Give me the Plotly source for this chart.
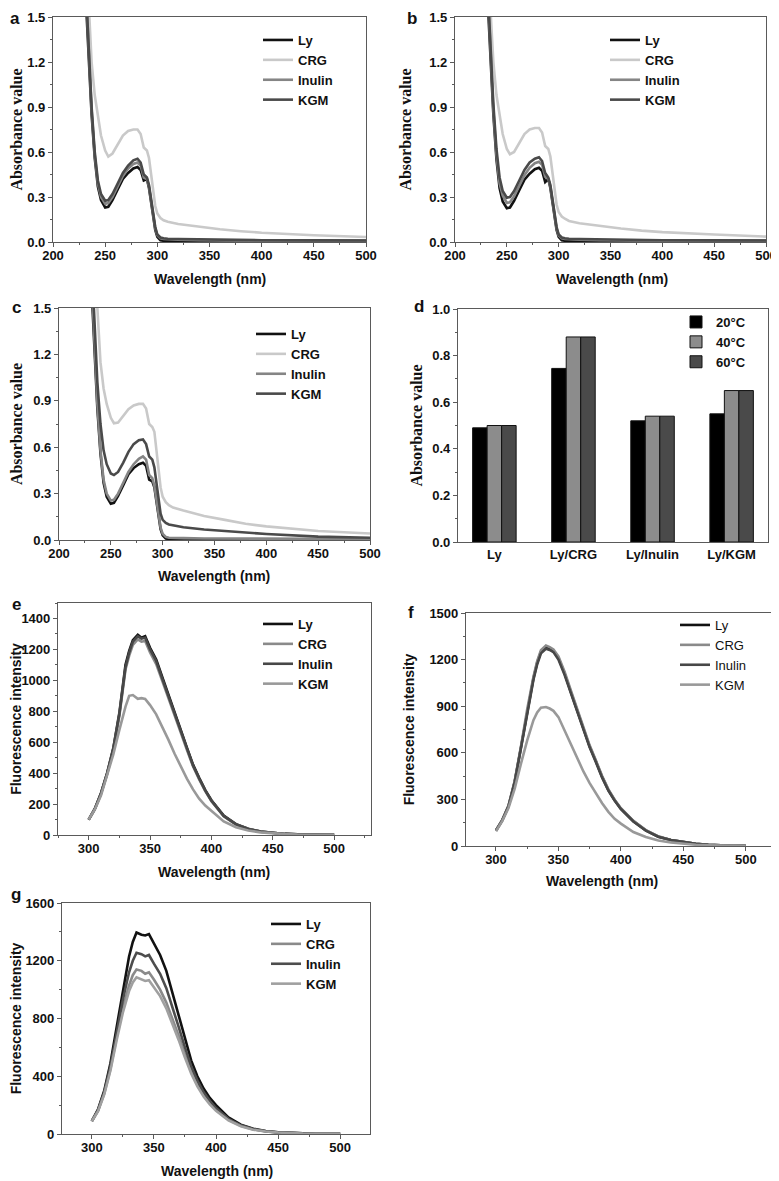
import plotly.graph_objects as go

# ---------------- data ----------------
WL_ABS = [228, 232, 235, 237, 240, 243, 246, 250, 253, 257, 262, 267, 272, 277, 281, 284, 287, 290,
          292, 294, 296, 298, 300, 303, 306, 310, 320, 340, 360, 380, 400, 450, 500]

a_Ly = [2.1, 1.55, 1.05, 0.85, 0.56, 0.37, 0.28, 0.23, 0.235, 0.28, 0.35, 0.42, 0.46, 0.49, 0.50, 0.48, 0.41, 0.42,
        0.36, 0.26, 0.16, 0.08, 0.035, 0.012, 0.008, 0.008, 0.008, 0.008, 0.008, 0.008, 0.008, 0.008, 0.008]
a_CRG = [2.6, 1.85, 1.48, 1.2, 0.98, 0.84, 0.71, 0.61, 0.57, 0.59, 0.65, 0.71, 0.74, 0.75, 0.75, 0.72, 0.63, 0.61,
         0.56, 0.45, 0.33, 0.24, 0.19, 0.16, 0.145, 0.135, 0.12, 0.10, 0.085, 0.072, 0.062, 0.045, 0.033]
a_Inulin = [2.2, 1.6, 1.1, 0.88, 0.58, 0.39, 0.30, 0.255, 0.26, 0.30, 0.37, 0.44, 0.49, 0.52, 0.53, 0.51, 0.43, 0.42,
            0.37, 0.27, 0.17, 0.09, 0.045, 0.025, 0.02, 0.018, 0.015, 0.012, 0.01, 0.009, 0.008, 0.006, 0.005]
a_KGM = [2.2, 1.62, 1.12, 0.9, 0.6, 0.41, 0.32, 0.275, 0.28, 0.32, 0.39, 0.46, 0.51, 0.545, 0.555, 0.53, 0.45, 0.43,
         0.38, 0.28, 0.18, 0.10, 0.05, 0.03, 0.025, 0.022, 0.02, 0.017, 0.015, 0.013, 0.012, 0.011, 0.01]

b_Ly = [2.1, 1.55, 1.05, 0.85, 0.55, 0.36, 0.27, 0.225, 0.23, 0.275, 0.345, 0.415, 0.455, 0.485, 0.495, 0.475, 0.40, 0.42,
        0.36, 0.26, 0.16, 0.08, 0.035, 0.012, 0.008, 0.008, 0.008, 0.008, 0.008, 0.008, 0.008, 0.008, 0.008]
b_CRG = [2.6, 1.85, 1.45, 1.2, 0.98, 0.84, 0.72, 0.62, 0.585, 0.60, 0.66, 0.72, 0.75, 0.76, 0.76, 0.73, 0.64, 0.62,
         0.57, 0.46, 0.34, 0.25, 0.20, 0.17, 0.155, 0.14, 0.125, 0.105, 0.09, 0.076, 0.066, 0.05, 0.036]
b_Inulin = [2.2, 1.6, 1.1, 0.88, 0.58, 0.39, 0.31, 0.26, 0.265, 0.305, 0.375, 0.445, 0.495, 0.525, 0.535, 0.515, 0.435, 0.42,
            0.37, 0.27, 0.17, 0.09, 0.045, 0.025, 0.02, 0.018, 0.015, 0.012, 0.01, 0.009, 0.008, 0.006, 0.005]
b_KGM = [2.2, 1.62, 1.14, 0.92, 0.62, 0.43, 0.34, 0.295, 0.30, 0.34, 0.41, 0.48, 0.53, 0.555, 0.565, 0.54, 0.46, 0.43,
         0.38, 0.28, 0.18, 0.10, 0.05, 0.03, 0.025, 0.022, 0.02, 0.017, 0.015, 0.013, 0.012, 0.011, 0.01]

c_Ly = [2.1, 1.55, 1.05, 0.85, 0.56, 0.37, 0.28, 0.235, 0.24, 0.285, 0.355, 0.425, 0.465, 0.49, 0.50, 0.48, 0.39, 0.38,
        0.34, 0.24, 0.15, 0.07, 0.03, 0.01, 0.006, 0.005, 0.005, 0.005, 0.005, 0.005, 0.005, 0.005, 0.005]
c_CRG = [3.0, 2.2, 1.75, 1.5, 1.15, 0.98, 0.88, 0.79, 0.755, 0.76, 0.80, 0.845, 0.87, 0.88, 0.88, 0.85, 0.75, 0.73,
         0.70, 0.58, 0.44, 0.34, 0.28, 0.245, 0.225, 0.21, 0.19, 0.155, 0.13, 0.105, 0.088, 0.058, 0.042]
c_Inulin = [2.2, 1.6, 1.1, 0.88, 0.58, 0.39, 0.30, 0.255, 0.26, 0.30, 0.37, 0.44, 0.49, 0.525, 0.54, 0.52, 0.42, 0.40,
            0.35, 0.25, 0.16, 0.08, 0.04, 0.02, 0.015, 0.013, 0.012, 0.01, 0.009, 0.008, 0.008, 0.007, 0.006]
c_KGM = [2.3, 1.7, 1.25, 1.02, 0.75, 0.58, 0.49, 0.43, 0.42, 0.44, 0.50, 0.57, 0.62, 0.645, 0.65, 0.62, 0.54, 0.52,
         0.47, 0.36, 0.25, 0.17, 0.13, 0.11, 0.10, 0.095, 0.082, 0.068, 0.058, 0.048, 0.039, 0.022, 0.015]

d_groups = ["Ly", "Ly/CRG", "Ly/Inulin", "Ly/KGM"]
d_20C = [0.49, 0.745, 0.52, 0.55]
d_40C = [0.50, 0.88, 0.54, 0.65]
d_60C = [0.50, 0.88, 0.54, 0.65]

WL_FL = [300, 305, 310, 315, 320, 325, 330, 333, 336, 340, 343, 346, 350, 355, 360, 365, 370, 375, 380, 385,
         390, 395, 400, 410, 420, 430, 440, 450, 460, 470, 480, 490, 500]

e_Ly = [100, 170, 270, 400, 560, 790, 1100, 1190, 1260, 1295, 1275, 1285, 1210, 1134, 1020, 910, 800, 680, 565, 455,
        370, 290, 225, 125, 70, 40, 23, 13, 7, 4, 2, 1, 1]
e_CRG = [98, 165, 265, 392, 548, 770, 1070, 1160, 1230, 1265, 1250, 1255, 1180, 1105, 995, 888, 778, 662, 550, 444,
         360, 283, 219, 121, 68, 39, 22, 13, 7, 4, 2, 1, 1]
e_Inulin = [100, 168, 268, 398, 555, 780, 1085, 1180, 1250, 1285, 1270, 1275, 1200, 1125, 1010, 900, 790, 672, 558, 450,
            365, 287, 222, 123, 69, 39, 22, 13, 7, 4, 2, 1, 1]
e_KGM = [100, 165, 255, 380, 520, 680, 830, 900, 905, 880, 885, 880, 840, 780, 700, 615, 525, 440, 365, 295,
         235, 190, 155, 88, 50, 29, 17, 10, 6, 3, 2, 1, 1]

f_Ly = [100, 165, 255, 415, 635, 870, 1080, 1180, 1250, 1280, 1270, 1255, 1210, 1110, 990, 870, 750, 640, 545, 445,
        360, 295, 240, 160, 100, 60, 38, 24, 14, 8, 4, 2, 1]
f_CRG = [100, 168, 260, 420, 640, 880, 1090, 1190, 1260, 1290, 1280, 1265, 1220, 1120, 1000, 880, 758, 648, 550, 450,
         365, 298, 243, 162, 102, 62, 39, 25, 14, 8, 4, 2, 1]
f_Inulin = [100, 165, 255, 412, 630, 862, 1070, 1170, 1240, 1270, 1262, 1248, 1200, 1100, 982, 862, 744, 635, 540, 440,
            357, 292, 238, 158, 99, 60, 38, 24, 14, 8, 4, 2, 1]
f_KGM = [95, 160, 245, 370, 530, 680, 810, 860, 890, 895, 885, 870, 830, 740, 650, 560, 480, 405, 338, 275,
         220, 175, 144, 90, 58, 35, 22, 13, 8, 5, 3, 2, 1]

g_Ly = [90, 170, 300, 490, 740, 1000, 1230, 1330, 1395, 1380, 1375, 1385, 1320, 1240, 1130, 975, 815, 660, 510, 400,
        315, 250, 200, 115, 65, 37, 21, 12, 7, 4, 2, 1, 1]
g_CRG = [88, 160, 280, 450, 670, 870, 1030, 1100, 1140, 1130, 1110, 1120, 1070, 1000, 910, 800, 680, 550, 440, 345,
         270, 215, 170, 100, 57, 32, 18, 10, 6, 3, 2, 1, 1]
g_Inulin = [90, 165, 290, 470, 700, 930, 1120, 1200, 1255, 1245, 1230, 1240, 1180, 1110, 1010, 880, 740, 600, 470, 370,
            290, 230, 180, 105, 60, 34, 19, 11, 6, 4, 2, 1, 1]
g_KGM = [88, 158, 275, 440, 650, 840, 990, 1050, 1085, 1070, 1060, 1065, 1015, 955, 870, 765, 650, 530, 420, 330,
         260, 205, 160, 95, 54, 30, 17, 10, 5, 3, 2, 1, 1]

SERIES = ["Ly", "CRG", "Inulin", "KGM"]
TEMPS = ["20°C", "40°C", "60°C"]

# ---------------- layout helpers ----------------
OFF = 8                      # page body margin of the html page
W, H = 779 - OFF, 1181 - OFF
def fx(px):                  # page pixel -> paper fraction
    return (px - OFF) / W
def fy(py):
    return 1 - (py - OFF) / H

ARIAL = "Arial, Liberation Sans, sans-serif"
TIMES = "Times New Roman, Liberation Serif, serif"
FRAME = "#5a5a5a"

# pixel boxes in page coordinates: (left, right, top, bottom)
boxes = {
    "a": (53, 366, 17, 242),
    "b": (455, 766, 17, 242),
    "c": (59, 370, 308, 540),
    "d": (458, 768, 309, 542),
    "e": (58, 371, 603, 835),
    "f": (466, 777, 613, 846),
    "g": (62, 370, 903, 1134),
}
order = ["a", "b", "c", "d", "e", "f", "g"]

abs_colors = ["#111111", "#c9c9c9", "#858585", "#4a4a4a"]
fl_colors = {"e": ["#111111", "#8a8a8a", "#474747", "#999999"],
             "f": ["#111111", "#8a8a8a", "#474747", "#999999"],
             "g": ["#111111", "#8a8a8a", "#4d4d4d", "#a0a0a0"]}

abs_data = {"a": [a_Ly, a_CRG, a_Inulin, a_KGM],
            "b": [b_Ly, b_CRG, b_Inulin, b_KGM],
            "c": [c_Ly, c_CRG, c_Inulin, c_KGM]}
fl_data = {"e": [e_Ly, e_CRG, e_Inulin, e_KGM],
           "f": [f_Ly, f_CRG, f_Inulin, f_KGM],
           "g": [g_Ly, g_CRG, g_Inulin, g_KGM]}

# legend anchor (left px, top px) in page coordinates
legend_pos = {"a": (258, 25), "b": (605, 25), "c": (251, 319), "d": (676, 307),
              "e": (258, 609), "f": (675, 610), "g": (266, 909)}

# x-axis title centres (page px)
xtitle_pos = {"a": (210, 279), "b": (612, 279), "c": (214, 576),
              "e": (214, 872), "f": (602, 881), "g": (217, 1171)}

fig = go.Figure()

for i, p in enumerate(order):
    n = "" if i == 0 else str(i + 1)
    xa, ya = "x" + n, "y" + n
    leg = "legend" + n
    if p in abs_data:
        for s, yv, col in zip(SERIES, abs_data[p], abs_colors):
            fig.add_trace(go.Scatter(x=WL_ABS, y=yv, name=s, mode="lines",
                                     line=dict(color=col, width=2.6),
                                     xaxis=xa, yaxis=ya, legend=leg))
    elif p == "d":
        for t, yv, col in zip(TEMPS, [d_20C, d_40C, d_60C], ["#000000", "#8c8c8c", "#4a4a4a"]):
            fig.add_trace(go.Bar(x=d_groups, y=yv, name=t,
                                 marker=dict(color=col, line=dict(color="#111111", width=1)),
                                 xaxis=xa, yaxis=ya, legend=leg))
    else:
        for s, yv, col in zip(SERIES, fl_data[p], fl_colors[p]):
            fig.add_trace(go.Scatter(x=WL_FL, y=yv, name=s, mode="lines",
                                     line=dict(color=col, width=2.6),
                                     xaxis=xa, yaxis=ya, legend=leg))

layout = dict(width=W, height=H, margin=dict(l=0, r=0, t=0, b=0, autoexpand=False),
              paper_bgcolor="white", plot_bgcolor="white",
              barmode="group", bargap=0.45, bargroupgap=0.0,
              font=dict(family=ARIAL, color="#111111"))

tickfont = dict(family=ARIAL, size=13, weight="bold", color="#111111")

axis_cfg = {
    "a": dict(xr=[200, 500], xd=50, yr=[0, 1.5], yd=0.3, yfmt=".1f", ytitle="Absorbance value", serif=True, yso=13),
    "b": dict(xr=[200, 500], xd=50, yr=[0, 1.5], yd=0.3, yfmt=".1f", ytitle="Absorbance value", serif=True, yso=13),
    "c": dict(xr=[200, 500], xd=50, yr=[0, 1.5], yd=0.3, yfmt=".1f", ytitle="Absorbance value", serif=True, yso=13),
    "d": dict(xr=[-0.46, 3.46], xd=None, yr=[0, 1.0], yd=0.2, yfmt=".1f", ytitle="Absorbance value", serif=True, yso=5),
    "e": dict(xr=[275, 530], xd=50, yr=[0, 1500], yd=200, yfmt="d", ytitle="Fluorescence intensity", serif=False, yso=3),
    "f": dict(xr=[276, 525], xd=50, yr=[0, 1500], yd=300, yfmt="d", ytitle="Fluorescence intensity", serif=False, yso=11),
    "g": dict(xr=[276, 524], xd=50, yr=[0, 1600], yd=400, yfmt="d", ytitle="Fluorescence intensity", serif=False, yso=6),
}

annotations = []
letter_pos = {"a": (15, 19), "b": (412, 19), "c": (16, 308), "d": (419, 306),
              "e": (16, 604), "f": (411, 612), "g": (16, 894)}

for i, p in enumerate(order):
    n = "" if i == 0 else str(i + 1)
    l, r, t, b = boxes[p]
    cfg = axis_cfg[p]
    xax = dict(domain=[fx(l), fx(r)], anchor="y" + n, range=cfg["xr"], automargin=False,
               showline=True, linecolor=FRAME, linewidth=1.2, mirror=True,
               ticks="outside", ticklen=4, tickcolor=FRAME, showgrid=False, zeroline=False,
               tickfont=tickfont, ticklabelstandoff=-3, ticklabeloverflow="allow")
    if cfg["xd"] is not None:
        xax.update(tick0=0, dtick=cfg["xd"],
                   minor=dict(ticks="outside", ticklen=2, dtick=cfg["xd"] / 2, tickcolor=FRAME, showgrid=False))
    else:
        xax.update(type="category", ticks="", ticklabelstandoff=0)
    ytf = dict(family=TIMES, size=16, weight="bold", color="#111111") if cfg["serif"] else \
        dict(family=ARIAL, size=14, weight="bold", color="#111111")
    yax = dict(domain=[fy(b), fy(t)], anchor="x" + n, range=cfg["yr"], automargin=False,
               showline=True, linecolor=FRAME, linewidth=1.2, mirror=True,
               ticks="outside", ticklen=4, tickcolor=FRAME, showgrid=False, zeroline=False,
               tick0=0, dtick=cfg["yd"], tickformat=cfg["yfmt"], tickfont=tickfont,
               ticklabeloverflow="allow",
               minor=dict(ticks="outside", ticklen=2, dtick=cfg["yd"] / 2, tickcolor=FRAME, showgrid=False),
               title=dict(text=cfg["ytitle"], font=ytf, standoff=cfg["yso"]))
    layout["xaxis" + n] = xax
    layout["yaxis" + n] = yax

    lx, ly = legend_pos[p]
    lfont = dict(family=ARIAL, size=13, weight="normal" if p == "f" else "bold", color="#111111")
    layout["legend" + n] = dict(x=fx(lx), y=fy(ly), xanchor="left", yanchor="top",
                                bgcolor="rgba(0,0,0,0)", borderwidth=0, font=lfont,
                                tracegroupgap=0, itemwidth=30)

    px_, py_ = letter_pos[p]
    annotations.append(dict(text=p, x=fx(px_), y=fy(py_), xref="paper", yref="paper",
                            showarrow=False, xanchor="center", yanchor="middle",
                            font=dict(family=ARIAL, size=17, weight="bold", color="#111111")))
    if p in xtitle_pos:
        tx, ty = xtitle_pos[p]
        annotations.append(dict(text="Wavelength (nm)", x=fx(tx), y=fy(ty), xref="paper", yref="paper",
                                showarrow=False, xanchor="center", yanchor="middle",
                                font=dict(family=ARIAL, size=14, weight="bold", color="#111111")))

layout["annotations"] = annotations
fig.update_layout(**layout)
fig.update_layout(showlegend=True)

fig.write_html("out.html")
